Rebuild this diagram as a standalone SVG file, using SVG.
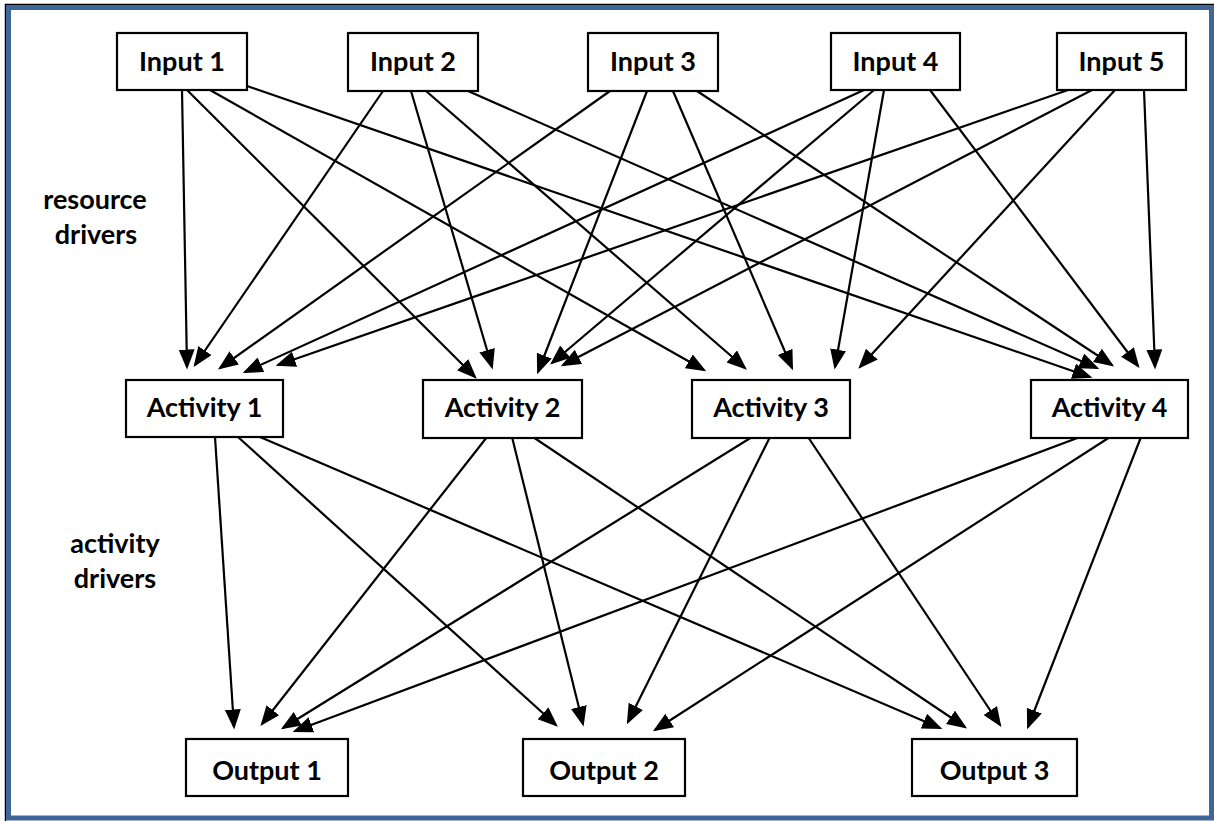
<svg xmlns="http://www.w3.org/2000/svg" width="1214" height="821" viewBox="0 0 1214 821">
<style>
.box{fill:#fff;stroke:#000;stroke-width:2.2}
.lbl{font-family:Lato,"Liberation Sans",sans-serif;font-weight:700;font-size:27px;fill:#000;text-anchor:middle}
.con line{stroke:#000;stroke-width:2.2;marker-end:url(#ah)}
</style>
<defs>
<marker id="ah" markerUnits="userSpaceOnUse" markerWidth="21" markerHeight="17" refX="17.5" refY="8" orient="auto">
<path d="M0,0 L20,8 L0,16 z" fill="#000"/>
</marker>
</defs>
<rect x="0" y="0" width="1214" height="821" fill="#fff"/>
<line x1="5" y1="4.5" x2="1214" y2="4.5" stroke="#000" stroke-width="1.5"/>
<line x1="5.5" y1="4" x2="5.5" y2="821" stroke="#000" stroke-width="1.5"/>
<rect x="8.5" y="7.5" width="1203" height="810.5" fill="none" stroke="#3F6698" stroke-width="5"/>

<g id="connectors" class="con">
<line x1="182" y1="90" x2="187" y2="367"/>
<line x1="187" y1="90" x2="475" y2="377"/>
<line x1="210" y1="90" x2="704" y2="370"/>
<line x1="247" y1="86" x2="1090" y2="377"/>
<line x1="383" y1="91" x2="195" y2="365"/>
<line x1="411" y1="91" x2="492" y2="367"/>
<line x1="426" y1="91" x2="745" y2="368"/>
<line x1="468" y1="91" x2="1097" y2="368"/>
<line x1="610" y1="91" x2="220" y2="368"/>
<line x1="647" y1="91" x2="538" y2="372"/>
<line x1="673" y1="91" x2="792" y2="368"/>
<line x1="697" y1="91" x2="1112" y2="365"/>
<line x1="864" y1="90" x2="245" y2="372"/>
<line x1="874" y1="90" x2="552" y2="363"/>
<line x1="884" y1="90" x2="835" y2="367"/>
<line x1="930" y1="90" x2="1138" y2="366"/>
<line x1="1068" y1="90" x2="278" y2="365"/>
<line x1="1092" y1="90" x2="563" y2="365"/>
<line x1="1115" y1="90" x2="860" y2="367"/>
<line x1="1144" y1="90" x2="1155" y2="367"/>
<line x1="215" y1="437" x2="234" y2="727"/>
<line x1="238" y1="437" x2="556" y2="725"/>
<line x1="260" y1="437" x2="940" y2="728"/>
<line x1="487" y1="437" x2="262" y2="724"/>
<line x1="512" y1="437" x2="583" y2="724"/>
<line x1="533" y1="437" x2="965" y2="727"/>
<line x1="752" y1="437" x2="283" y2="728"/>
<line x1="770" y1="437" x2="628" y2="722"/>
<line x1="808" y1="437" x2="1000" y2="725"/>
<line x1="1080" y1="437" x2="295" y2="731"/>
<line x1="1110" y1="437" x2="655" y2="730"/>
<line x1="1141" y1="437" x2="1028" y2="727"/>
</g>

<g id="input1"><rect class="box" x="117" y="33" width="130" height="57"/><text class="lbl" x="182" y="71">Input 1</text></g>
<g id="input2"><rect class="box" x="348" y="33" width="130" height="58"/><text class="lbl" x="413" y="71">Input 2</text></g>
<g id="input3"><rect class="box" x="588" y="33" width="130" height="58"/><text class="lbl" x="653" y="71">Input 3</text></g>
<g id="input4"><rect class="box" x="831" y="33" width="129" height="57"/><text class="lbl" x="895.5" y="71">Input 4</text></g>
<g id="input5"><rect class="box" x="1057" y="33" width="129" height="57"/><text class="lbl" x="1121.5" y="71">Input 5</text></g>

<g id="activity1"><rect class="box" x="126" y="380" width="157" height="57"/><text class="lbl" x="204.5" y="417">Activity 1</text></g>
<g id="activity2"><rect class="box" x="423" y="380" width="159" height="58"/><text class="lbl" x="502.5" y="417">Activity 2</text></g>
<g id="activity3"><rect class="box" x="692" y="380" width="158" height="58"/><text class="lbl" x="771" y="417">Activity 3</text></g>
<g id="activity4"><rect class="box" x="1031" y="380" width="157" height="58"/><text class="lbl" x="1109.5" y="417">Activity 4</text></g>

<g id="output1"><rect class="box" x="186" y="739" width="162" height="57"/><text class="lbl" x="267" y="780">Output 1</text></g>
<g id="output2"><rect class="box" x="523" y="739" width="162" height="57"/><text class="lbl" x="604" y="780">Output 2</text></g>
<g id="output3"><rect class="box" x="912" y="739" width="165" height="57"/><text class="lbl" x="994.5" y="780">Output 3</text></g>

<g id="label-resource"><text class="lbl" x="95" y="209">resource</text><text class="lbl" x="96" y="244">drivers</text></g>
<g id="label-activity"><text class="lbl" x="115" y="553">activity</text><text class="lbl" x="115" y="588">drivers</text></g>
</svg>
